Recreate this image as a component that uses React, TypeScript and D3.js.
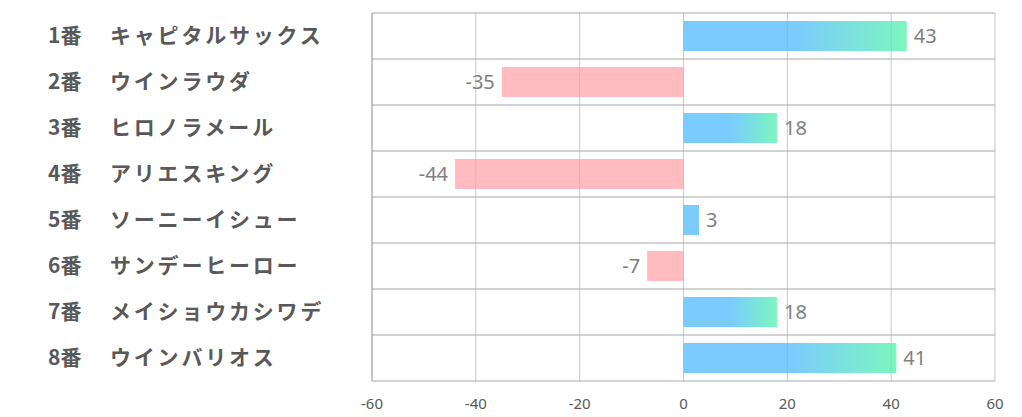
import React from "react";
import * as d3 from "d3";

const numbers = ["1番", "2番", "3番", "4番", "5番", "6番", "7番", "8番"];
const names = [
  "キャピタルサックス",
  "ウインラウダ",
  "ヒロノラメール",
  "アリエスキング",
  "ソーニーイシュー",
  "サンデーヒーロー",
  "メイショウカシワデ",
  "ウインバリオス",
];
const values = [43, -35, 18, -44, 3, -7, 18, 41];
const ticks = [-60, -40, -20, 0, 20, 40, 60];

const W = 1022;
const H = 417;
const left = 372;
const right = 995;
const top = 13;
const bottom = 381;

export default function App() {
  const x = d3.scaleLinear().domain([-60, 60]).range([left, right]);
  const y = d3
    .scaleBand<number>()
    .domain(d3.range(values.length))
    .range([top, bottom])
    .paddingInner(0.348)
    .paddingOuter(0.174);
  const rowH = (bottom - top) / values.length;
  const x0 = x(0);
  const fillFor = (v: number, i: number) =>
    v < 0 ? "#FFBBBF" : v >= 10 ? `url(#g${i})` : "#7BCBFE";

  return (
    <div style={{ position: "absolute", left: 0, top: 0 }}>
      <svg width={W} height={H} style={{ display: "block" }}>
        <defs>
          {values.map((v, i) =>
            v >= 10 ? (
              <linearGradient
                key={i}
                id={`g${i}`}
                gradientUnits="userSpaceOnUse"
                x1={x0}
                x2={x(v)}
                y1={0}
                y2={0}
              >
                <stop offset="0%" stopColor="#7BCBFE" />
                <stop offset="50%" stopColor="#7BCBFE" />
                <stop offset="100%" stopColor="#7CF6BE" />
              </linearGradient>
            ) : null
          )}
        </defs>
        <rect x={0} y={0} width={W} height={H} fill="#fff" />
        {ticks.map((t) => (
          <line
            key={t}
            x1={x(t)}
            x2={x(t)}
            y1={top}
            y2={bottom}
            stroke="#d9d9d9"
            strokeWidth={1}
          />
        ))}
        {values.map((v, i) => (
          <rect
            key={i}
            x={Math.min(x0, x(v))}
            y={y(i)!}
            width={Math.abs(x(v) - x0)}
            height={y.bandwidth()}
            fill={fillFor(v, i)}
          />
        ))}
        {ticks.map((t) => (
          <line
            key={"o" + t}
            x1={x(t)}
            x2={x(t)}
            y1={top}
            y2={bottom}
            stroke="rgba(0,0,0,0.07)"
            strokeWidth={1}
          />
        ))}
        {d3.range(values.length + 1).map((k) => (
          <line
            key={"h" + k}
            x1={left}
            x2={right}
            y1={top + k * rowH}
            y2={top + k * rowH}
            stroke="#a6a6a6"
            strokeWidth={1}
          />
        ))}
        <line x1={left} x2={left} y1={top} y2={bottom} stroke="#a6a6a6" strokeWidth={1} />
        {values.map((v, i) => (
          <text
            key={"v" + i}
            x={v > 0 ? x(v) + 7 : x(v) - 7}
            y={y(i)! + y.bandwidth() / 2}
            dy="0.36em"
            textAnchor={v > 0 ? "start" : "end"}
            fontFamily="'Noto Sans', sans-serif"
            fontSize={20}
            fill="#808080"
          >
            {v}
          </text>
        ))}
        {values.map((_, i) => (
          <g key={"c" + i}>
            <text
              x={48}
              y={top + (i + 0.5) * rowH}
              dy="0.34em"
              fontFamily="'Noto Sans CJK JP', sans-serif"
              fontWeight={700}
              fontSize={21}
              fill="#595959"
            >
              {numbers[i]}
            </text>
            <text
              x={110}
              y={top + (i + 0.5) * rowH}
              dy="0.34em"
              fontFamily="'Noto Sans CJK JP', sans-serif"
              fontWeight={700}
              fontSize={21}
              letterSpacing={2.8}
              fill="#595959"
            >
              {names[i]}
            </text>
          </g>
        ))}
        {ticks.map((t) => (
          <text
            key={"t" + t}
            x={x(t)}
            y={404}
            dy="0.36em"
            textAnchor="middle"
            fontFamily="'Noto Sans', sans-serif"
            fontSize={15}
            fill="#595959"
          >
            {t}
          </text>
        ))}
      </svg>
    </div>
  );
}
